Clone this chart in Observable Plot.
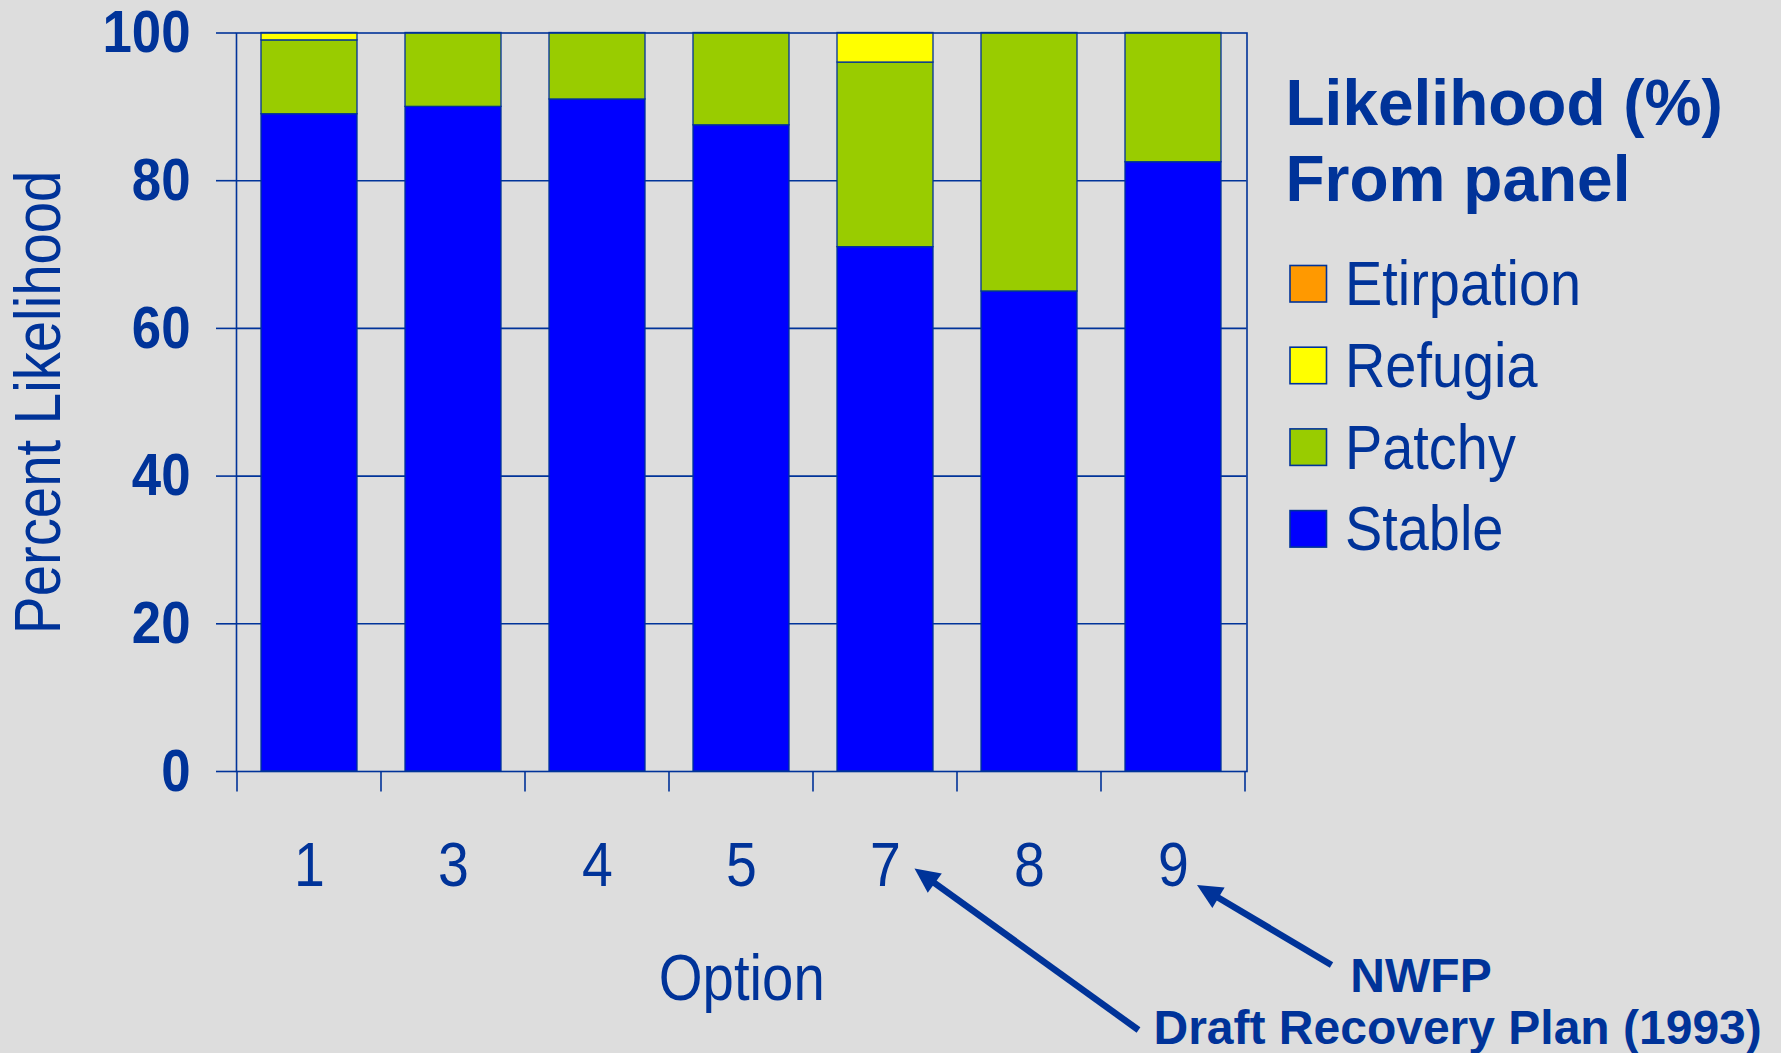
<!DOCTYPE html>
<html>
<head>
<meta charset="utf-8">
<script src="https://cdn.jsdelivr.net/npm/d3@7"></script>
<script src="https://cdn.jsdelivr.net/npm/@observablehq/plot@0.6"></script>
<style>
  html, body { margin: 0; padding: 0; background: #dddddd; }
  #chart svg { display: block; }
</style>
</head>
<body>
<div id="chart"></div>
<script>
// Management options on the x axis
const options = ["1", "3", "4", "5", "7", "8", "9"];

// Panel likelihood (%) for each outcome, one value per option
const stable     = [89, 90, 91, 87.5, 71, 65, 82.5];
const patchy     = [10, 10, 9, 12.5, 25, 35, 17.5];
const refugia    = [1, 0, 0, 0, 4, 0, 0];
const etirpation = [0, 0, 0, 0, 0, 0, 0];

// Outcomes, stacked bottom to top, and their fills
const outcomes = ["Stable", "Patchy", "Refugia", "Etirpation"];
const outcomeColors = ["#0000ff", "#99cc00", "#ffff00", "#ff9900"];
const legendOrder = ["Etirpation", "Refugia", "Patchy", "Stable"];

const yTicks = [0, 20, 40, 60, 80, 100];
const gridValues = [20, 40, 60, 80];

const legendTitle = ["Likelihood (%)", "From panel"];
const yLabel = "Percent Likelihood";
const xLabel = "Option";
const noteNwfp = "NWFP";
const noteDraft = "Draft Recovery Plan (1993)";

const ink = "#003399";
const sans = "'Liberation Sans', Arial, sans-serif";
// horizontal squeeze that turns the regular face into a narrow one
const squeeze = 0.88;

const valuesBy = {Stable: stable, Patchy: patchy, Refugia: refugia, Etirpation: etirpation};
const rows = [];
outcomes.forEach(o => options.forEach((opt, i) => {
  rows.push({option: opt, outcome: o, value: valuesBy[o][i]});
}));

const W = 1781, H = 1053;

const plot = Plot.plot({
  width: W,
  height: H,
  marginLeft: 236,
  marginRight: 534.5,
  marginTop: 32.5,
  marginBottom: 282,
  style: {background: "#dddddd", overflow: "visible"},
  x: {domain: options, paddingInner: 0.33, paddingOuter: 0.165},
  y: {domain: [0, 100]},
  color: {domain: outcomes, range: outcomeColors},
  marks: [
    Plot.ruleY(gridValues, {stroke: ink, strokeWidth: 1.6}),
    Plot.barY(rows.filter(d => d.value > 0), {
      x: "option", y: "value", z: "outcome", fill: "outcome",
      order: outcomes, stroke: ink, strokeWidth: 1.3
    }),
    Plot.frame({stroke: ink, strokeWidth: 1.6}),
    Plot.axisY(yTicks, {
      tickSize: 20, tickPadding: 26, stroke: ink, strokeWidth: 1.6, fill: ink,
      fontSize: 60, fontWeight: "bold", fontFamily: sans, label: null
    }),
    Plot.axisX({
      tickSize: 0, tickPadding: 70, fill: ink,
      fontSize: 63, fontFamily: sans, label: null
    }),
    Plot.text([yLabel], {
      frameAnchor: "left", textAnchor: "middle", lineAnchor: "middle",
      rotate: -90, dx: -197, className: "narrow",
      fill: ink, fontSize: 64, fontFamily: sans
    }),
    Plot.text([xLabel], {
      frameAnchor: "bottom", textAnchor: "middle", lineAnchor: "middle",
      dy: 208, className: "narrow",
      fill: ink, fontSize: 64, fontFamily: sans
    })
  ]
});

document.getElementById("chart").appendChild(plot);

const svg = d3.select(plot);
const xs = plot.scale("x");
const ys = plot.scale("y");
const gap = (xs.step - xs.bandwidth) / 2;
const y0 = ys.apply(0);

// Category boundary ticks below the baseline
const bounds = options.map(o => xs.apply(o) - gap);
bounds.push(xs.apply(options[options.length - 1]) + xs.bandwidth + gap);
svg.append("g")
  .selectAll("line")
  .data(bounds)
  .join("line")
  .attr("x1", d => d).attr("x2", d => d)
  .attr("y1", y0).attr("y2", y0 + 20.5)
  .attr("stroke", ink).attr("stroke-width", 1.6);

// Legend
const color = plot.scale("color");
const legendX = 1290, legendTop = 265.5, legendStep = 81.7, sw = 36.5;
const lg = svg.append("g").attr("text-anchor", "start");
lg.selectAll("text.title")
  .data(legendTitle)
  .join("text")
  .attr("class", "title")
  .attr("x", legendX - 4.5)
  .attr("y", (d, i) => 125 + i * 76)
  .attr("fill", ink)
  .attr("font-family", sans)
  .attr("font-weight", "bold")
  .attr("font-size", 64)
  .text(d => d);
const items = lg.selectAll("g.item")
  .data(legendOrder)
  .join("g")
  .attr("class", "item")
  .attr("transform", (d, i) => `translate(${legendX},${legendTop + i * legendStep})`);
items.append("rect")
  .attr("width", sw).attr("height", sw)
  .attr("fill", d => color.apply(d))
  .attr("stroke", ink).attr("stroke-width", 1.6);
items.append("text")
  .attr("class", "narrow-item")
  .attr("x", 55)
  .attr("y", sw / 2 + 21.5)
  .attr("fill", ink)
  .attr("font-family", sans)
  .attr("font-size", 63.5)
  .text(d => d);

// Annotations pointing at options 7 and 9
function arrow(x1, y1, x2, y2) {
  const dx = x2 - x1, dy = y2 - y1, len = Math.hypot(dx, dy);
  const ux = dx / len, uy = dy / len, nx = -uy, ny = ux;
  const hl = 25, hw = 12;
  const bx = x2 - ux * hl, by = y2 - uy * hl;
  svg.append("line")
    .attr("x1", x1).attr("y1", y1)
    .attr("x2", bx + ux * 4).attr("y2", by + uy * 4)
    .attr("stroke", ink).attr("stroke-width", 6.5);
  svg.append("path")
    .attr("d", `M${x2},${y2}L${bx + nx * hw},${by + ny * hw}L${bx - nx * hw},${by - ny * hw}Z`)
    .attr("fill", ink);
}
const mid = o => xs.apply(o) + xs.bandwidth / 2;
arrow(1138.5, 1030, mid("7") + 29.5, 868.5);
arrow(1331.5, 965, mid("9") + 24, 885);

svg.append("text")
  .attr("x", 1421).attr("y", 992)
  .attr("text-anchor", "middle")
  .attr("fill", ink)
  .attr("font-family", sans).attr("font-weight", "bold").attr("font-size", 48)
  .text(noteNwfp);
svg.append("text")
  .attr("x", 1153.5).attr("y", 1044)
  .attr("text-anchor", "start")
  .attr("fill", ink)
  .attr("font-family", sans).attr("font-weight", "bold").attr("font-size", 48)
  .text(noteDraft);

// Narrow lettering: squeeze the regular face horizontally
svg.selectAll(
  'g[aria-label="y-axis tick label"] text, g[aria-label="x-axis tick label"] text, .narrow text, text.narrow-item'
).each(function() {
  const len = this.getComputedTextLength();
  if (len > 0) {
    this.setAttribute("textLength", len * squeeze);
    this.setAttribute("lengthAdjust", "spacingAndGlyphs");
  }
});
</script>
</body>
</html>
